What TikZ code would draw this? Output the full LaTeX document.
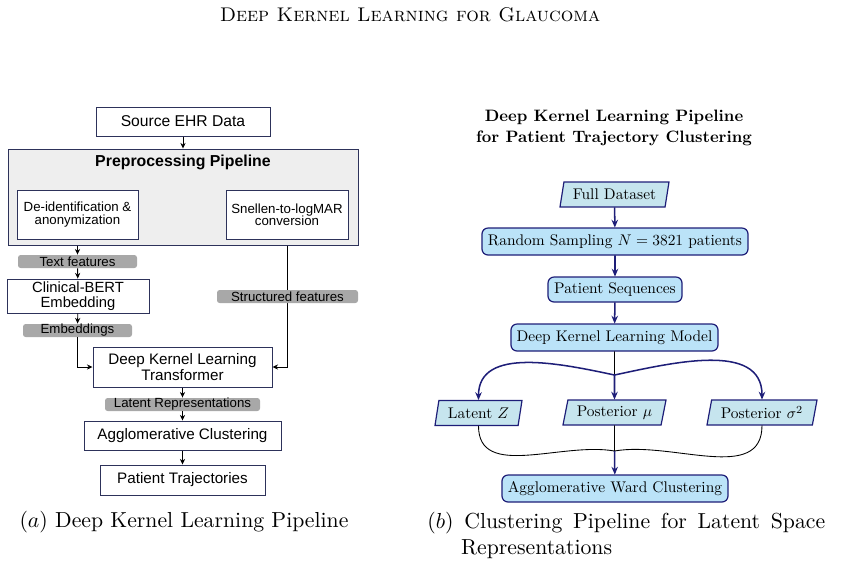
\documentclass[tikz,border=0pt]{standalone}
\usepackage{fontspec}
\newfontfamily\arialfont{Liberation Sans}
\usetikzlibrary{arrows.meta,shapes.geometric}

\definecolor{boxline}{RGB}{45,50,90}
\definecolor{prepgray}{RGB}{238,238,238}
\definecolor{labelgray}{RGB}{168,168,168}
\definecolor{navy}{RGB}{30,30,120}
\definecolor{procfill}{RGB}{187,227,248}
\definecolor{datafill}{RGB}{198,229,238}
\newcommand{\pxu}{0.46pt}
\newcommand{\rpx}{0.648pt}

\begin{document}
\begin{tikzpicture}[x=0.46pt, y=-0.46pt,
	ehrbox/.style={draw=boxline, line width=0.45pt, fill=white, align=center, inner sep=0pt,
		font=\arialfont\fontsize{7}{6.3}\selectfont},
	stepbox/.style={ehrbox, font=\arialfont\fontsize{6.1}{5.7}\selectfont},
	featlabel/.style={fill=labelgray, rounded corners=1.2pt, inner sep=0pt, minimum height=13*\pxu,
		font=\arialfont\fontsize{6.1}{7}\selectfont},
	lflow/.style={-{Stealth[length=2.6pt,width=2.4pt]}, line width=0.4pt},
	small/.style={transform shape, scale=0.71, font=\fontsize{10}{12}\selectfont},
	procbox/.style={small, rectangle, rounded corners=2.8pt, draw=navy, fill=procfill, line width=0.55pt,
		inner sep=0pt, minimum height=27*\rpx},
	databox/.style={small, trapezium, trapezium left angle=70, trapezium right angle=110,
		trapezium stretches body, draw=navy, fill=datafill, line width=0.55pt, inner sep=0pt,
		minimum height=25*\rpx},
	rflow/.style={-{Stealth[length=3.6pt,width=3pt]}, draw=navy, line width=0.7pt}]
	\useasboundingbox (0,0) rectangle (843,587);
	
	\node[font=\fontsize{9.1}{11}\selectfont] (header) at (410,15) {\textsc{Deep Kernel Learning for Glaucoma}};
	
	% (a) EHR pipeline
	\node[ehrbox, minimum width=174*\pxu, minimum height=29*\pxu, font=\arialfont\fontsize{7.2}{8}\selectfont] (src) at (183,121.5) {Source EHR Data};
	\node[draw=boxline, line width=0.45pt, fill=prepgray, minimum width=350*\pxu, minimum height=96*\pxu] (prep) at (183,197) {};
	\node[font=\arialfont\bfseries\fontsize{7.3}{8.8}\selectfont] (preptitle) at (183,162) {Preprocessing Pipeline};
	\node[stepbox, minimum width=121*\pxu, minimum height=49*\pxu] (deid) at (77.5,214.5) {De-identification \&\\anonymization};
	\node[stepbox, minimum width=122*\pxu, minimum height=49*\pxu] (snel) at (287,214.5) {Snellen-to-logMAR\\conversion};
	\node[featlabel, minimum width=119*\pxu] (textf) at (77.5,261.5) {Text features};
	\node[ehrbox, minimum width=142*\pxu, minimum height=34*\pxu, font=\arialfont\fontsize{6.8}{6.9}\selectfont] (bert) at (78,296) {Clinical-BERT\\Embedding};
	\node[featlabel, minimum width=109*\pxu] (emb) at (77.5,330.5) {Embeddings};
	\node[ehrbox, minimum width=179*\pxu, minimum height=40*\pxu] (dkl) at (182.5,367) {Deep Kernel Learning\\Transformer};
	\node[featlabel, minimum width=155*\pxu] (latrep) at (182.5,404.5) {Latent Representations};
	\node[ehrbox, minimum width=197*\pxu, minimum height=29*\pxu] (agg) at (182.5,435.5) {Agglomerative Clustering};
	\node[ehrbox, minimum width=165*\pxu, minimum height=30*\pxu] (traj) at (182.5,480) {Patient Trajectories};
	
	\draw[lflow] (src) -- (prep);
	\draw[lflow] (prep.south -| textf) -- (textf);
	\draw[lflow] (textf) -- (bert);
	\draw[lflow] (bert) -- (emb);
	\draw[lflow] (emb) |- (dkl);
	\draw[lflow] (prep.south -| snel) |- (dkl);
	\node[featlabel, minimum width=141*\pxu] (struct) at (287.5,296.5) {Structured features};
	\draw[lflow] (dkl) -- (latrep);
	\draw[lflow] (latrep) -- (agg);
	\draw[lflow] (agg) -- (traj);
	
	% (b) clustering pipeline
	\node[align=center, transform shape, scale=0.76, font=\bfseries\fontsize{10}{13.2}\selectfont] (title) at (614,128) {Deep Kernel Learning Pipeline\\for Patient Trajectory Clustering};
	\node[databox, minimum width=109*\rpx] (full) at (614.5,194.5) {Full Dataset};
	\node[procbox, minimum width=266*\rpx] (rand) at (615,241.5) {Random Sampling $N=3821$ patients};
	\node[procbox, minimum width=134*\rpx, minimum height=25*\rpx] (seq) at (615,289.5) {Patient Sequences};
	\node[procbox, minimum width=207*\rpx] (dklm) at (614.5,337.5) {Deep Kernel Learning Model};
	\node[databox, minimum width=87*\rpx] (latent) at (478.5,413) {Latent $Z$};
	\node[databox, minimum width=103*\rpx] (postmu) at (614.5,412.5) {Posterior $\mu$};
	\node[databox, minimum width=110*\rpx] (postvar) at (762,412.5) {Posterior $\sigma^2$};
	\node[procbox, minimum width=226*\rpx] (ward) at (615,488.5) {Agglomerative Ward Clustering};
	\coordinate (split) at (614.5,375);
	\coordinate (merge) at (614.5,451);
	
	\draw[rflow] (full) -- (rand);
	\draw[rflow] (rand) -- (seq);
	\draw[rflow] (seq) -- (dklm);
	\draw[line width=0.4pt] (dklm) -- (split);
	\draw[rflow] (split) to[out=168, in=90] (latent.north);
	\draw[rflow] (split) -- (postmu);
	\draw[rflow] (split) to[out=12, in=90] (postvar.north);
	\draw[line width=0.4pt] (latent.south) to[out=-90, in=170] (merge);
	\draw[line width=0.4pt] (postvar.south) to[out=-90, in=10] (merge);
	\draw[line width=0.4pt] (postmu) -- (merge);
	\draw[rflow] (merge) -- (ward);
	
	% captions
	\node[font=\fontsize{10}{12}\selectfont] (capa) at (184,522) {$(a)$ Deep Kernel Learning Pipeline};
	\node[anchor=north west, inner sep=0pt, align=left, font=\fontsize{10}{12}\selectfont] (capb) at (427,512)
		{\makebox[183pt][s]{$(b)$ Clustering Pipeline for Latent Space}\\\hspace*{15.5pt}Representations};
\end{tikzpicture}
\end{document}
